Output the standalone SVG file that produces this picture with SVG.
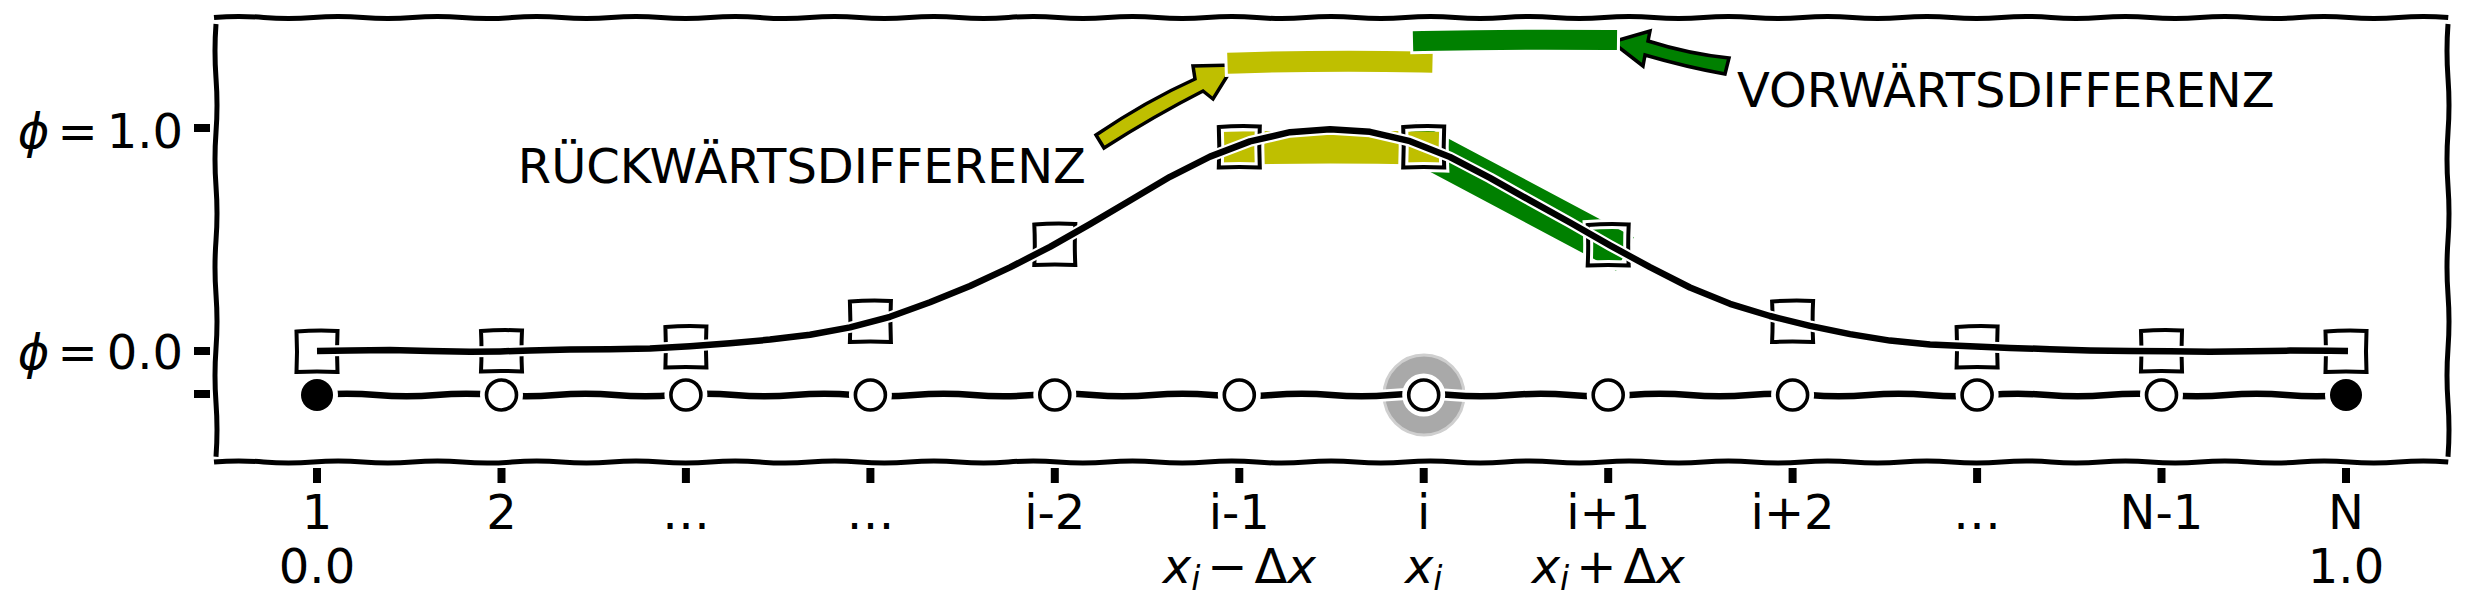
<svg xmlns="http://www.w3.org/2000/svg" xmlns:xlink="http://www.w3.org/1999/xlink" width="2466" height="613" viewBox="0 0 2466 613">
<style>
  text { font-family: "DejaVu Sans", "Liberation Sans", sans-serif; font-size: 48px; fill: #000; }
  .frame { fill: none; stroke: #000; stroke-width: 5; stroke-linecap: butt; }
  .tick { stroke: #000; stroke-width: 8; }
  .halo { fill: none; stroke: #fff; stroke-linejoin: round; stroke-linecap: round; }
  .ink { fill: none; stroke: #000; stroke-width: 6.5; stroke-linejoin: round; stroke-linecap: butt; }
  .yel { stroke: #bfbf00; }
  .grn { stroke: #008000; }
  .bar { fill: none; stroke-linecap: square; }
  .barhalo { fill: none; stroke: #fff; stroke-linecap: square; }
  .it { font-style: italic; }
</style>
<defs>
  <g id="sq">
    <path d="M-20.5,-20 Q0,-21.5 20.5,-20.5 Q19.5,0 20.5,20.5 Q0,19.5 -20.5,20.5 Q-19.5,0 -20.5,-20 Z" fill="none" stroke="#fff" stroke-width="10"/>
    <path d="M-20.5,-20 Q0,-21.5 20.5,-20.5 Q19.5,0 20.5,20.5 Q0,19.5 -20.5,20.5 Q-19.5,0 -20.5,-20 Z" fill="none" stroke="#000" stroke-width="4"/>
  </g>
  <g id="pt">
    <circle r="15" fill="none" stroke="#fff" stroke-width="13"/>
    <circle r="15" fill="#fff" stroke="#000" stroke-width="3.6"/>
  </g>
  <g id="ptf">
    <circle r="16" fill="none" stroke="#fff" stroke-width="10"/>
    <circle r="16" fill="#000"/>
  </g>
</defs>
<rect width="2466" height="613" fill="#fff"/>

<!-- frame -->
<g id="frame">
  <path class="frame" d="M214,17.5 q24.8,-2.2 49.65,0 t49.65,0 t49.65,0 t49.65,0 t49.65,0 t49.65,0 t49.65,0 t49.65,0 t49.65,0 t49.65,0 t49.65,0 t49.65,0 t49.65,0 t49.65,0 t49.65,0 t49.65,0 t49.65,0 t49.65,0 t49.65,0 t49.65,0 t49.65,0 t49.65,0 t49.65,0 t49.65,0 t49.65,0 t49.65,0 t49.65,0 t49.65,0 t49.65,0 t49.65,0 t49.65,0 t49.65,0 t49.65,0 t49.65,0 t49.65,0 t49.65,0 t49.65,0 t49.65,0 t49.65,0 t49.65,0 t49.65,0 t49.65,0 t49.65,0 t49.65,0 t49.65,0"/>
  <path class="frame" d="M214,462 q24.8,-2.2 49.65,0 t49.65,0 t49.65,0 t49.65,0 t49.65,0 t49.65,0 t49.65,0 t49.65,0 t49.65,0 t49.65,0 t49.65,0 t49.65,0 t49.65,0 t49.65,0 t49.65,0 t49.65,0 t49.65,0 t49.65,0 t49.65,0 t49.65,0 t49.65,0 t49.65,0 t49.65,0 t49.65,0 t49.65,0 t49.65,0 t49.65,0 t49.65,0 t49.65,0 t49.65,0 t49.65,0 t49.65,0 t49.65,0 t49.65,0 t49.65,0 t49.65,0 t49.65,0 t49.65,0 t49.65,0 t49.65,0 t49.65,0 t49.65,0 t49.65,0 t49.65,0 t49.65,0"/>
  <path class="frame" d="M216,24 q-2,27 0,54.1 t0,54.1 t0,54.1 t0,54.1 t0,54.1 t0,54.1 t0,54.1 t0,54.1"/>
  <path class="frame" d="M2448,24 q-2,27 0,54.1 t0,54.1 t0,54.1 t0,54.1 t0,54.1 t0,54.1 t0,54.1 t0,54.1"/>
</g>

<!-- axis ticks -->
<g id="ticks">
  <line class="tick" x1="194" y1="128" x2="210" y2="128"/>
  <line class="tick" x1="194" y1="351" x2="210" y2="351"/>
  <line class="tick" x1="194" y1="394" x2="210" y2="394"/>
  <g stroke="#000" stroke-width="8">
    <line x1="317" y1="468" x2="317" y2="483"/>
    <line x1="501.5" y1="468" x2="501.5" y2="483"/>
    <line x1="685.9" y1="468" x2="685.9" y2="483"/>
    <line x1="870.4" y1="468" x2="870.4" y2="483"/>
    <line x1="1054.8" y1="468" x2="1054.8" y2="483"/>
    <line x1="1239.3" y1="468" x2="1239.3" y2="483"/>
    <line x1="1423.7" y1="468" x2="1423.7" y2="483"/>
    <line x1="1608.2" y1="468" x2="1608.2" y2="483"/>
    <line x1="1792.6" y1="468" x2="1792.6" y2="483"/>
    <line x1="1977.1" y1="468" x2="1977.1" y2="483"/>
    <line x1="2161.5" y1="468" x2="2161.5" y2="483"/>
    <line x1="2346" y1="468" x2="2346" y2="483"/>
  </g>
</g>

<!-- axis labels -->
<g id="ylabels">
  <text x="183" y="147.5" text-anchor="end"><tspan class="it">ϕ</tspan><tspan dx="8">=</tspan><tspan dx="9">1.0</tspan></text>
  <text x="183" y="368.5" text-anchor="end"><tspan class="it">ϕ</tspan><tspan dx="8">=</tspan><tspan dx="9">0.0</tspan></text>
</g>
<g id="xlabels" text-anchor="middle">
  <text x="317" y="529">1</text>
  <text x="501.5" y="529">2</text>
  <text x="685.9" y="529">…</text>
  <text x="870.4" y="529">…</text>
  <text x="1054.8" y="529">i-2</text>
  <text x="1239.3" y="529">i-1</text>
  <text x="1423.7" y="529">i</text>
  <text x="1608.2" y="529">i+1</text>
  <text x="1792.6" y="529">i+2</text>
  <text x="1977.1" y="529">…</text>
  <text x="2161.5" y="529">N-1</text>
  <text x="2346" y="529">N</text>
  <text x="317" y="583">0.0</text>
  <text x="1239.3" y="583"><tspan class="it">x</tspan><tspan class="it" font-size="33" dy="7">i</tspan><tspan dy="-7" dx="7">−</tspan><tspan dx="7">Δ</tspan><tspan class="it">x</tspan></text>
  <text x="1423.7" y="583"><tspan class="it">x</tspan><tspan class="it" font-size="33" dy="7">i</tspan></text>
  <text x="1608.2" y="583"><tspan class="it">x</tspan><tspan class="it" font-size="33" dy="7">i</tspan><tspan dy="-7" dx="7">+</tspan><tspan dx="7">Δ</tspan><tspan class="it">x</tspan></text>
  <text x="2346" y="583">1.0</text>
</g>

<!-- highlight of central point -->
<g id="focus">
  <circle cx="1424" cy="395" r="40" fill="#a9a9a9" stroke="#cfcfcf" stroke-width="3"/>
</g>

<!-- difference bands -->
<g id="bands">
  <path class="bar grn" stroke-width="38" d="M1423.7,147 L1608.2,245"/>
  <path class="bar yel" stroke-width="33" d="M1239.3,148 Q1330,146 1423.7,148"/>
</g>

<!-- phi samples (squares) -->
<g id="phi-samples">
  <g id="phi-1"><use xlink:href="#sq" x="317" y="351.5"/></g>
  <g id="phi-2"><use xlink:href="#sq" x="501.5" y="351"/></g>
  <g id="phi-3"><use xlink:href="#sq" x="685.9" y="347"/></g>
  <g id="phi-4"><use xlink:href="#sq" x="870.4" y="321.5"/></g>
  <g id="phi-5"><use xlink:href="#sq" x="1054.8" y="244.5"/></g>
  <g id="phi-6"><use xlink:href="#sq" x="1239.3" y="147"/></g>
  <g id="phi-7"><use xlink:href="#sq" x="1423.7" y="147"/></g>
  <g id="phi-8"><use xlink:href="#sq" x="1608.2" y="245"/></g>
  <g id="phi-9"><use xlink:href="#sq" x="1792.6" y="321.5"/></g>
  <g id="phi-10"><use xlink:href="#sq" x="1977.1" y="347"/></g>
  <g id="phi-11"><use xlink:href="#sq" x="2161.5" y="351"/></g>
  <g id="phi-12"><use xlink:href="#sq" x="2346" y="351.5"/></g>
</g>

<!-- connectors -->
<g id="connectors">
  <path class="halo" stroke-width="11" d="M317,351 L350,350.4 390,350.1 430,351 470,351.8 500,351.4 530,350.5 570,349.6 610,349.2 650,348.6 690,346.2 730,343.2 770,339.6 810,334.8 850,327.4 890,316.8 930,302.3 970,286 1010,267.4 1050,246.8 1090,224.2 1130,200.5 1170,176.8 1210,156.6 1250,141.4 1290,132.2 1330,129.3 1370,131.8 1410,141.2 1450,157 1490,177.9 1530,200.4 1570,222.5 1610,245.4 1650,267.2 1690,287.5 1730,303.8 1770,316 1810,325.9 1850,334.1 1890,340.6 1930,344.6 1970,346.3 2010,347.9 2050,349.2 2090,350.4 2130,350.9 2170,351.3 2210,351.7 2250,351.2 2290,350.6 2330,350.7 2348,351"/>
  <path class="ink" d="M317,351 L350,350.4 390,350.1 430,351 470,351.8 500,351.4 530,350.5 570,349.6 610,349.2 650,348.6 690,346.2 730,343.2 770,339.6 810,334.8 850,327.4 890,316.8 930,302.3 970,286 1010,267.4 1050,246.8 1090,224.2 1130,200.5 1170,176.8 1210,156.6 1250,141.4 1290,132.2 1330,129.3 1370,131.8 1410,141.2 1450,157 1490,177.9 1530,200.4 1570,222.5 1610,245.4 1650,267.2 1690,287.5 1730,303.8 1770,316 1810,325.9 1850,334.1 1890,340.6 1930,344.6 1970,346.3 2010,347.9 2050,349.2 2090,350.4 2130,350.9 2170,351.3 2210,351.7 2250,351.2 2290,350.6 2330,350.7 2348,351"/>
  <path class="halo" stroke-width="12" d="M317,395 q29.84,-2.4 59.68,0 t59.68,0 t59.68,0 t59.68,0 t59.68,0 t59.68,0 t59.68,0 t59.68,0 t59.68,0 t59.68,0 t59.68,0 t59.68,0 t59.68,0 t59.68,0 t59.68,0 t59.68,0 t59.68,0 t59.68,0 t59.68,0 t59.68,0 t59.68,0 t59.68,0 t59.68,0 t59.68,0 t59.68,0 t59.68,0 t59.68,0 t59.68,0 t59.68,0 t59.68,0 t59.68,0 t59.68,0 t59.68,0 t59.68,0"/>
  <path class="ink" d="M317,395 q29.84,-2.4 59.68,0 t59.68,0 t59.68,0 t59.68,0 t59.68,0 t59.68,0 t59.68,0 t59.68,0 t59.68,0 t59.68,0 t59.68,0 t59.68,0 t59.68,0 t59.68,0 t59.68,0 t59.68,0 t59.68,0 t59.68,0 t59.68,0 t59.68,0 t59.68,0 t59.68,0 t59.68,0 t59.68,0 t59.68,0 t59.68,0 t59.68,0 t59.68,0 t59.68,0 t59.68,0 t59.68,0 t59.68,0 t59.68,0 t59.68,0"/>
  <!-- annotation arrows -->
  <path id="arrow-back" d="M1096,135 Q1146,101 1195,79 L1193,66 L1234,65 L1213,99 L1203,91 Q1154,116 1104,148 Z" fill="#bfbf00" stroke="#000" stroke-width="3.5" stroke-linejoin="miter"/>
  <path id="arrow-fwd" d="M1729,58 Q1689,54 1648,41 L1650,31 L1612,42 L1643,66 L1645,55 Q1686,67 1725,74 Z" fill="#008000" stroke="#000" stroke-width="3.5" stroke-linejoin="miter"/>
</g>

<!-- difference bars (legend) -->
<g id="legend-bars">
  <path class="barhalo" stroke-width="27" d="M1238,63 Q1330,60 1422,62"/>
  <path class="bar yel" stroke-width="21" d="M1238,63 Q1330,60 1422,62"/>
  <path class="barhalo" stroke-width="26" d="M1423,41 Q1515,39 1607,40"/>
  <path class="bar grn" stroke-width="20" d="M1423,41 Q1515,39 1607,40"/>
</g>

<!-- annotation texts -->
<g id="annotations">
  <text x="1086" y="183" text-anchor="end">RÜCKWÄRTSDIFFERENZ</text>
  <text x="1737" y="107">VORWÄRTSDIFFERENZ</text>
</g>

<!-- grid points -->
<g id="node-1"><use xlink:href="#ptf" x="317" y="395"/></g>
<g id="node-2"><use xlink:href="#pt" x="501.5" y="395"/></g>
<g id="node-3"><use xlink:href="#pt" x="685.9" y="395"/></g>
<g id="node-4"><use xlink:href="#pt" x="870.4" y="395"/></g>
<g id="node-5"><use xlink:href="#pt" x="1054.8" y="395"/></g>
<g id="node-6"><use xlink:href="#pt" x="1239.3" y="395"/></g>
<g id="node-7"><use xlink:href="#pt" x="1423.7" y="395"/></g>
<g id="node-8"><use xlink:href="#pt" x="1608.2" y="395"/></g>
<g id="node-9"><use xlink:href="#pt" x="1792.6" y="395"/></g>
<g id="node-10"><use xlink:href="#pt" x="1977.1" y="395"/></g>
<g id="node-11"><use xlink:href="#pt" x="2161.5" y="395"/></g>
<g id="node-12"><use xlink:href="#ptf" x="2346" y="395"/></g>
</svg>
